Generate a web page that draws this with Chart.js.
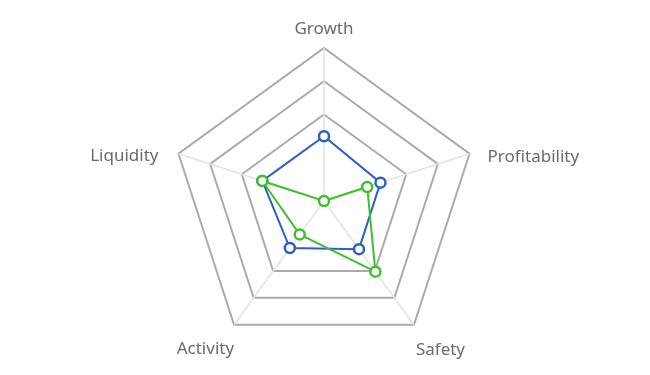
<!DOCTYPE html>
<html>
<head>
<meta charset="utf-8">
<script src="https://cdn.jsdelivr.net/npm/chart.js@4.4.1/dist/chart.umd.min.js"></script>
<style>
  html, body { margin: 0; padding: 0; background: #fff; }
  #wrap { width: 650px; height: 375px; }
</style>
</head>
<body>
<div id="wrap"><canvas id="radarChart" width="650" height="375"></canvas></div>
<script>
// indicators, clockwise from the top
const categories = ['Growth', 'Profitability', 'Safety', 'Activity', 'Liquidity'];
// series values (scale 0..100)
const blueValues = [42.3, 38.8, 38.9, 38.0, 42.4];
const greenValues = [0, 29.7, 57.1, 27.0, 42.4];
// ring positions (first one sits at the centre and is not drawn)
const ringTicks = [0, 56.5, 78.25, 100];

// label placement relative to each outer vertex
const labelLayout = [
    { align: 'center', dx: 0, dy: -19 },
    { align: 'left', dx: 18, dy: 3 },
    { align: 'left', dx: 2, dy: 25 },
    { align: 'right', dx: 0, dy: 24.5 },
    { align: 'right', dx: -20, dy: 2 }
];

const axisNames = {
    id: 'axisNames',
    afterDraw(chart) {
        const scale = chart.scales.r;
        const ctx = chart.ctx;
        ctx.save();
        ctx.font = '17px "Noto Sans", "Open Sans", sans-serif';
        ctx.fillStyle = '#676a72';
        ctx.textBaseline = 'middle';
        categories.forEach((name, i) => {
            const p = scale.getPointPosition(i, scale.drawingArea);
            const l = labelLayout[i];
            ctx.textAlign = l.align;
            ctx.fillText(name, p.x + l.dx, p.y + l.dy);
        });
        ctx.restore();
    }
};

const ctx = document.getElementById('radarChart').getContext('2d');
new Chart(ctx, {
    type: 'radar',
    data: {
        labels: categories,
        datasets: [
            {
                label: 'Series A',
                data: blueValues,
                borderColor: '#2c5fc4',
                backgroundColor: '#ffffff',
                pointBackgroundColor: '#ffffff',
                pointBorderColor: '#2c5fc4',
                borderWidth: 2,
                pointRadius: 5,
                pointBorderWidth: 2.5,
                fill: false,
                order: 2
            },
            {
                label: 'Series B',
                data: greenValues,
                borderColor: '#3fbf2f',
                backgroundColor: '#ffffff',
                pointBackgroundColor: '#ffffff',
                pointBorderColor: '#3fbf2f',
                borderWidth: 2,
                pointRadius: 5,
                pointBorderWidth: 2.5,
                fill: false,
                order: 1
            }
        ]
    },
    options: {
        responsive: false,
        animation: false,
        layout: {
            padding: { top: 48, bottom: 20, left: 0, right: 2 }
        },
        plugins: {
            legend: { display: false },
            tooltip: { enabled: false }
        },
        elements: {
            line: { tension: 0 }
        },
        scales: {
            r: {
                min: 0,
                max: 100,
                afterBuildTicks: (scale) => {
                    scale.ticks = ringTicks.map(v => ({ value: v }));
                },
                ticks: { display: false },
                pointLabels: { display: false },
                grid: { color: '#aaaaaa', lineWidth: 2 },
                angleLines: { color: '#e3e3e3', lineWidth: 1.5 }
            }
        }
    },
    plugins: [axisNames]
});
</script>
</body>
</html>
